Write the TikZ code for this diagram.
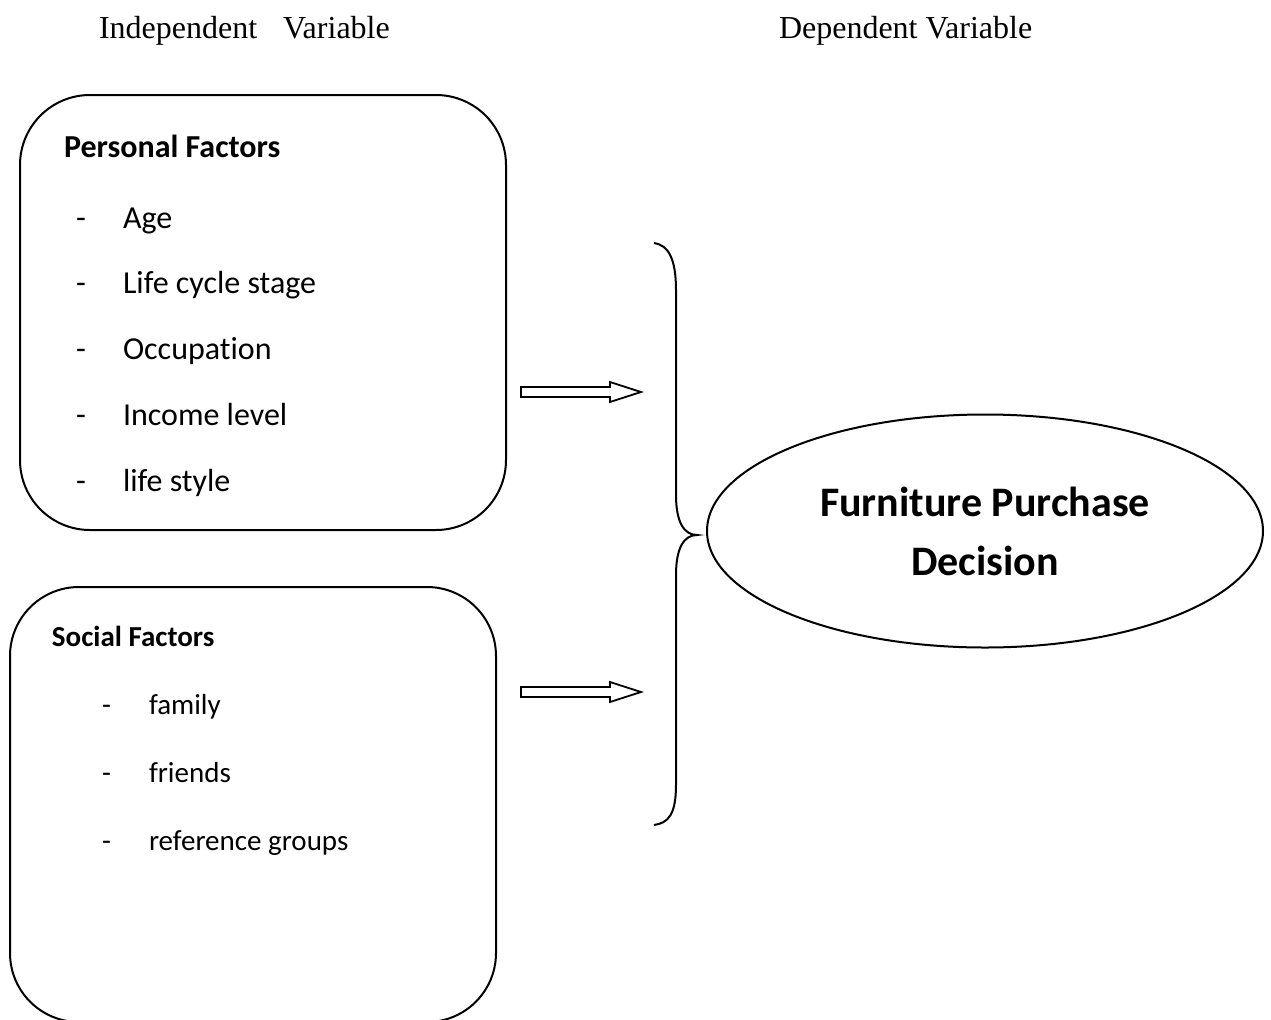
\documentclass[tikz,border=0pt]{standalone}
\usepackage{fontspec}
\setmainfont{Liberation Serif}
\newfontfamily\calibri[Ligatures=NoCommon]{Carlito}
\usetikzlibrary{positioning,shapes}

\begin{document}
\begin{tikzpicture}[
  x=0.5pt,y=-0.5pt,
  line width=1pt,
  factorbox/.style={draw,rounded corners=35pt},
  title/.style={anchor=base west,inner sep=0,font=\fontsize{16}{19}\selectfont},
  heading/.style={anchor=base west,inner sep=0,font=\calibri\bfseries\fontsize{16}{19}\selectfont},
  item/.style={anchor=base west,inner sep=0,font=\calibri\fontsize{16}{19}\selectfont},
  smallhead/.style={heading,font=\calibri\bfseries\fontsize{14.5}{17}\selectfont},
  smallitem/.style={item,font=\calibri\fontsize{14.5}{17}\selectfont},
  decision/.style={draw,ellipse,minimum width=278pt,minimum height=116.5pt,align=center,
    font=\calibri\bfseries\fontsize{21}{29.5}\selectfont}
]
\useasboundingbox (0,0) rectangle (1271,1019);
\clip (0,0) rectangle (1271,1019);

% column titles
\node[title] (indep) at (98,38) {Independent\hspace{13pt}Variable};
\node[title] (dep) at (778,38) {Dependent Variable};

% personal factors
\draw[factorbox] (20,95) rectangle (506,530);
\node[heading] (personal) at (63,157) {Personal Factors};
\foreach \txt [count=\i] in {Age,Life cycle stage,Occupation,Income level,life style}{
  \node[item] (pdash\i) at (75,228+65.75*\i-65.75) {-};
  \node[item] (pitem\i) at (122,228+65.75*\i-65.75) {\txt};
}

% social factors
\draw[factorbox,rounded corners=34.5pt] (10,587) rectangle (496,1022);
\node[smallhead] (social) at (51,646) {Social Factors};
\foreach \txt [count=\i] in {family,friends,reference groups}{
  \node[smallitem] (sdash\i) at (101,714+68*\i-68) {-};
  \node[smallitem] (sitem\i) at (148,714+68*\i-68) {\txt};
}

% arrows
\coordinate (pa) at (521,392);
\coordinate (pb) at (641,392);
\coordinate (sa) at (521,692);
\coordinate (sb) at (641,692);
\foreach \s/\e in {pa/pb,sa/sb}
  \draw[line width=0.9pt] (\s) ++(0,-5) -- ++(89,0) -- ++(0,-5) -- (\e) -- ++(-31,10)
    -- ++(0,-5) -- ++(-89,0) -- cycle;

% brace
\draw (654,243) .. controls (668,245) and (676,258) .. (676,290) -- (676,495)
  .. controls (676,522) and (684,535) .. (697,535)
  .. controls (684,535) and (676,548) .. (676,575) -- (676,785)
  .. controls (676,815) and (668,823) .. (654,825);

% dependent variable
\node[decision] (fpd) at (985,531) {Furniture Purchase\\Decision};
\end{tikzpicture}
\end{document}
